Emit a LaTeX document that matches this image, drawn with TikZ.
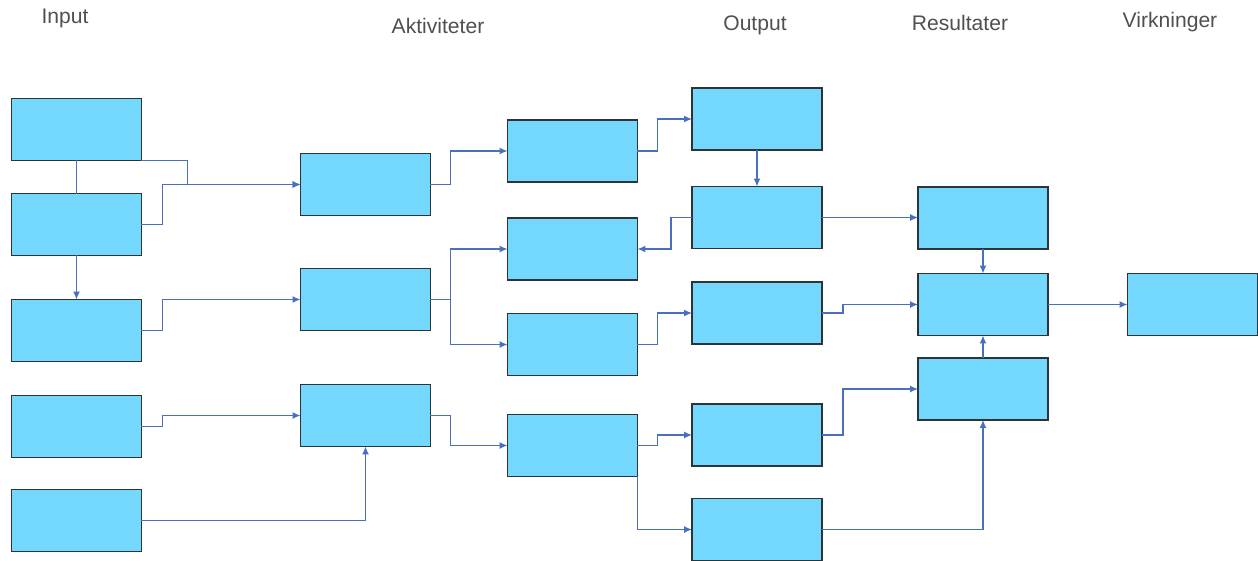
\documentclass[tikz,border=0pt]{standalone}
\usepackage{fontspec}
\setmainfont{Liberation Sans}
\usetikzlibrary{arrows.meta}
\definecolor{boxcyan}{HTML}{74D7FE}
\definecolor{boxline}{HTML}{2E3436}
\definecolor{connblue}{HTML}{4A6FBF}
\definecolor{titlegray}{HTML}{505050}
\tikzset{
  blk/.style={draw=boxline, fill=boxcyan, line width=1.1pt, minimum width=2.6cm, minimum height=1.24cm, inner sep=0pt, outer sep=0pt},
  conn/.style={draw=connblue, line width=0.8pt},
  arr/.style={conn, -{Latex[length=4.5pt,width=4pt]}},
  ttl/.style={text=titlegray, font=\fontsize{12}{14}\selectfont, inner sep=0pt}
}
\begin{document}
\begin{tikzpicture}[x=0.02cm, y=-0.02cm]
\useasboundingbox (0,0) rectangle (1258,561);
% titles
\node[ttl] (tIn)  at (65,18) {Input};
\node[ttl] (tAk)  at (438,26) {Aktiviteter};
\node[ttl] (tOut) at (755,25) {Output};
\node[ttl] (tRes) at (960,23) {Resultater};
\node[ttl] (tVir) at (1170,22) {Virkninger};
% input column
\node[blk] (I1) at (76.5,129.5) {};
\node[blk] (I2) at (76.5,224.5) {};
\node[blk] (I3) at (76.5,330.5) {};
\node[blk] (I4) at (76.5,426.5) {};
\node[blk] (I5) at (76.5,520.5) {};
% activities
\node[blk] (A1) at (365.5,184.5) {};
\node[blk] (A2) at (365.5,299.5) {};
\node[blk] (A3) at (365.5,415.5) {};
% middle column
\node[blk] (B1) at (572.5,151) {};
\node[blk] (B2) at (572.5,249) {};
\node[blk] (B3) at (572.5,344.5) {};
\node[blk] (B4) at (572.5,445.5) {};
% output column
\node[blk] (O1) at (757,119) {};
\node[blk] (O2) at (757,217.5) {};
\node[blk] (O3) at (757,313) {};
\node[blk] (O4) at (757,435) {};
\node[blk] (O5) at (757,529.5) {};
% results
\node[blk] (R1) at (983,218) {};
\node[blk] (R2) at (983,304.5) {};
\node[blk] (R3) at (983,389) {};
% impacts
\node[blk] (V1) at (1192.5,304.5) {};
% connectors
\draw[conn] (I1.south) -- (I2.north);
\draw[arr] (I1.south east) -- ++(46,0) |- (A1.west);
\draw[arr] (I2.east) -- ++(21,0) |- (A1.west);
\draw[arr] (I2.south) -- (I3.north);
\draw[arr] (I3.east) -- ++(21,0) |- (A2.west);
\draw[arr] (I4.east) -- ++(21,0) |- (A3.west);
\draw[arr] (I5.east) -| (A3.south);
\draw[arr] (A1.east) -- ++(20,0) |- (B1.west);
\draw[arr] (A2.east) -- ++(20,0) |- (B2.west);
\draw[arr] (A2.east) -- ++(20,0) |- (B3.west);
\draw[arr] (A3.east) -- ++(20,0) |- (B4.west);
\draw[arr] (B1.east) -- ++(20,0) |- (O1.west);
\draw[arr] (O2.west) -- ++(-21,0) |- (B2.east);
\draw[arr] (B3.east) -- ++(20,0) |- (O3.west);
\draw[arr] (B4.east) -- ++(20,0) |- (O4.west);
\draw[arr] (B4.south east) |- (O5.west);
\draw[arr] (O1.south) -- (O2.north);
\draw[arr] (O2.east) -- (O2.east -| R1.west);
\draw[arr] (O3.east) -- ++(21,0) |- (R2.west);
\draw[arr] (O4.east) -- ++(21,0) |- (R3.west);
\draw[arr] (O5.east) -| (R3.south);
\draw[arr] (R1.south) -- (R2.north);
\draw[arr] (R3.north) -- (R2.south);
\draw[arr] (R2.east) -- (V1.west);
\end{tikzpicture}
\end{document}
